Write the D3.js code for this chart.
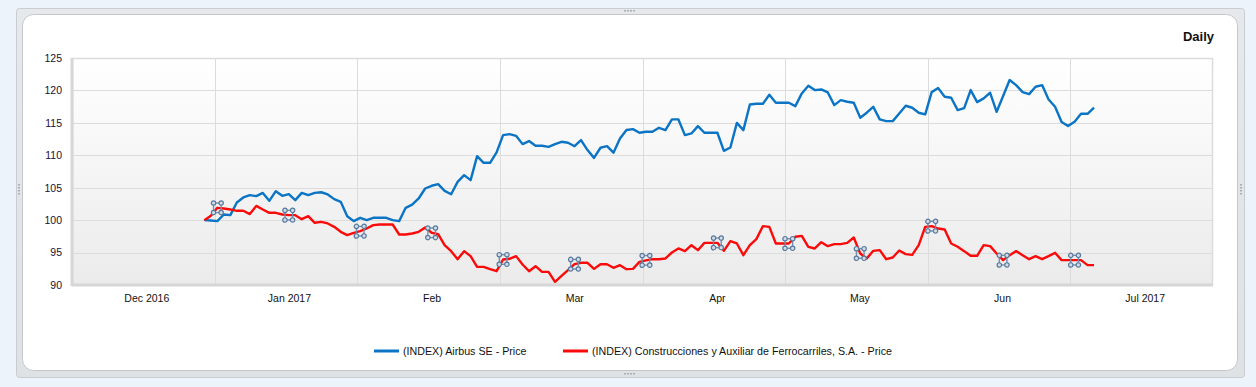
<!DOCTYPE html>
<html>
<head>
<meta charset="utf-8">
<script src="https://cdn.jsdelivr.net/npm/d3@7"></script>
<style>
  html, body { margin: 0; padding: 0; background: #edf3fa; }
  svg { display: block; font-family: Arial, "Liberation Sans", sans-serif; }
</style>
</head>
<body>
<div id="chart"></div>
<script>
// month bands along the bottom axis
var months = ["Dec 2016", "Jan 2017", "Feb", "Mar", "Apr", "May", "Jun", "Jul 2017"];
var yTicks = [90, 95, 100, 105, 110, 115, 120, 125];

// daily prices, rebased to 100
var airbus = [100.0, 99.95, 99.85, 100.87, 100.77, 102.72, 103.5, 103.86, 103.7, 104.2,
  102.98, 104.47, 103.75, 104.0, 103.08, 104.2, 103.86, 104.2, 104.3, 103.96,
  103.24, 102.83, 100.6, 99.85, 100.36, 100.0, 100.36, 100.36, 100.36, 100.0,
  99.85, 101.9, 102.4, 103.34, 104.88, 105.3, 105.55, 104.52, 104.0, 105.9,
  106.94, 106.17, 109.87, 108.84, 108.84, 110.44, 113.1, 113.26, 113.0, 111.72,
  112.19, 111.47, 111.47, 111.3, 111.72, 112.08, 111.93, 111.4, 112.34, 110.8,
  109.6, 111.16, 111.4, 110.4, 112.6, 113.9, 114.04, 113.47, 113.62,
  113.62, 114.24, 113.88, 115.53, 115.53, 113.11, 113.37, 114.5, 113.47, 113.47,
  113.47, 110.69, 111.2, 115.0, 113.88, 117.84, 117.94, 117.94, 119.33, 118.1,
  118.1, 118.1, 117.58, 119.54, 120.72, 120.05, 120.15, 119.69, 117.74, 118.5,
  118.25, 118.1, 115.78, 116.56, 117.48, 115.53, 115.27, 115.27, 116.45, 117.64,
  117.33, 116.56, 116.3, 119.74, 120.36, 119.02, 118.87, 116.97, 117.28, 120.05,
  118.2, 118.77, 119.64, 116.7, 119.13, 121.6, 120.82, 119.74, 119.43, 120.57,
  120.82, 118.61, 117.48, 115.12, 114.5, 115.17, 116.4, 116.4, 117.33];

var caf = [100.0, 100.67, 101.9, 101.8, 101.65, 101.44, 101.44, 100.93, 102.2, 101.65,
  101.13, 101.13, 100.87, 100.77, 100.77, 100.15, 100.62, 99.59, 99.74, 99.49,
  98.97, 98.2, 97.69, 98.05, 98.3, 98.71, 99.23, 99.33, 99.33, 99.33,
  97.79, 97.79, 97.94, 98.2, 98.87, 98.05, 97.84, 96.14, 95.22, 93.98,
  95.22, 94.45, 92.8, 92.8, 92.44, 92.13, 93.93, 94.04, 94.45, 93.16,
  92.13, 92.9, 92.03, 92.03, 90.49, 91.41, 92.29, 93.21, 93.42, 93.42,
  92.49, 93.21, 93.21, 92.65, 93.06, 92.44, 92.49, 93.57, 93.8,
  93.98, 93.98, 94.09, 95.01, 95.63, 95.22, 96.14, 95.37, 96.5, 96.5,
  96.5, 95.27, 96.76, 96.4, 94.6, 96.14, 97.07, 99.07, 98.97, 96.4,
  96.4, 96.4, 97.43, 97.58, 95.89, 95.63, 96.6, 95.99, 96.3, 96.3,
  96.5, 97.33, 94.86, 94.09, 95.27, 95.37, 93.98, 94.24, 95.32, 94.76,
  94.65, 96.14, 98.97, 99.07, 98.71, 98.56, 96.4, 95.89, 95.22, 94.5,
  94.5, 96.14, 95.99, 94.86, 93.83, 94.6, 95.22, 94.6, 93.98, 94.45,
  93.98, 94.45, 94.96, 93.83, 93.83, 93.83, 93.83, 93.06, 93.06];

// news/event flags sit on the CAF line at these days
var eventIdx = [2, 13, 24, 35, 46, 57, 68, 79, 90, 101, 112, 123, 134];

var seriesNames = ["(INDEX) Airbus SE - Price",
  "(INDEX) Construcciones y Auxiliar de Ferrocarriles, S.A. - Price"];
var seriesColors = ["#0b74c4", "#fb0a0a"];

var W = 1256, H = 387;
var margin = {top: 58, right: 43, bottom: 102, left: 72};

var svg = d3.select("#chart").append("svg")
  .attr("width", W)
  .attr("height", H);

var defs = svg.append("defs");
var grad = defs.append("linearGradient")
  .attr("id", "plotbg")
  .attr("x1", 0).attr("y1", 0).attr("x2", 0).attr("y2", 1);
grad.append("stop").attr("offset", "0%").attr("stop-color", "#ffffff");
grad.append("stop").attr("offset", "100%").attr("stop-color", "#ebebeb");

var frame = defs.append("linearGradient")
  .attr("id", "framebg")
  .attr("x1", 0).attr("y1", 0).attr("x2", 0).attr("y2", 1);
frame.append("stop").attr("offset", "0%").attr("stop-color", "#e6e9ec");
frame.append("stop").attr("offset", "100%").attr("stop-color", "#dfe2e5");

// outer panel
svg.append("rect")
  .attr("x", 16.5).attr("y", 8.5)
  .attr("width", 1228).attr("height", 369)
  .attr("rx", 3)
  .attr("fill", "url(#framebg)")
  .attr("stroke", "#c9cdd1");

svg.append("rect")
  .attr("x", 22.5).attr("y", 14.5)
  .attr("width", 1215).attr("height", 356)
  .attr("rx", 11)
  .attr("fill", "#ffffff")
  .attr("stroke", "#c4c8cc");

// grip dots on the panel edges
function grip(cx, cy, vertical) {
  for (var i = 0; i < 4; i++) {
    svg.append("rect")
      .attr("x", vertical ? cx - 1 : cx - 6 + i * 3)
      .attr("y", vertical ? cy - 6 + i * 3 : cy - 1)
      .attr("width", 2).attr("height", 1.5)
      .attr("fill", "#a9aeb3");
  }
}
grip(630, 11, false);
grip(630, 374, false);
grip(19, 190, true);
grip(1241, 190, true);

var plotW = W - margin.left - margin.right,
    plotH = H - margin.top - margin.bottom;

var g = svg.append("g")
  .attr("transform", "translate(" + margin.left + "," + margin.top + ")");

var y = d3.scaleLinear().domain([90, 125]).range([plotH, 0]);

var xMonth = d3.scaleBand().domain(months).range([0, plotW]).padding(0);
var bw = xMonth.bandwidth();

// trading days laid out evenly, first day late in Dec, last one early in Jul
var x = d3.scaleLinear()
  .domain([0, airbus.length - 1])
  .range([xMonth("Dec 2016") + 0.928 * bw, xMonth("Jul 2017") + 0.166 * bw]);

g.append("rect")
  .attr("width", plotW).attr("height", plotH)
  .attr("fill", "url(#plotbg)");

// grid
g.selectAll(".hgrid")
  .data(yTicks)
  .enter().append("line")
  .attr("x1", 0).attr("x2", plotW)
  .attr("y1", function(d) { return Math.round(y(d)) + 0.5; })
  .attr("y2", function(d) { return Math.round(y(d)) + 0.5; })
  .attr("stroke", "#dcdcdc");

g.selectAll(".vgrid")
  .data(months.slice(1))
  .enter().append("line")
  .attr("x1", function(d) { return Math.round(xMonth(d)) + 0.5; })
  .attr("x2", function(d) { return Math.round(xMonth(d)) + 0.5; })
  .attr("y1", 0).attr("y2", plotH)
  .attr("stroke", "#dcdcdc");

// plot border (heavier left and bottom)
g.append("rect")
  .attr("x", 0.5).attr("y", 0.5)
  .attr("width", plotW - 1).attr("height", plotH - 1)
  .attr("fill", "none")
  .attr("stroke", "#dcdcdc")
  .attr("stroke-width", 1.5);
g.append("line")
  .attr("x1", 0).attr("x2", 0)
  .attr("y1", 0).attr("y2", plotH + 1)
  .attr("stroke", "#d6d6d6").attr("stroke-width", 3);
g.append("line")
  .attr("x1", 0).attr("x2", plotW)
  .attr("y1", plotH).attr("y2", plotH)
  .attr("stroke", "#d6d6d6").attr("stroke-width", 3);

// y axis labels
var yAxis = d3.axisLeft(y).tickValues(yTicks).tickSize(0).tickPadding(10);
var ya = g.append("g").call(yAxis);
ya.select(".domain").remove();
ya.selectAll("text")
  .attr("font-size", "10.5px")
  .attr("font-family", "Arial, 'Liberation Sans', sans-serif")
  .attr("fill", "#1a1030");

// x axis labels, centred on month bands
var xAxis = d3.axisBottom(xMonth).tickSize(0).tickPadding(10);
var xa = g.append("g")
  .attr("transform", "translate(3.5," + plotH + ")")
  .call(xAxis);
xa.select(".domain").remove();
xa.selectAll("text")
  .attr("font-size", "10.5px")
  .attr("font-family", "Arial, 'Liberation Sans', sans-serif")
  .attr("fill", "#111");

// lines
var line = d3.line()
  .x(function(d, i) { return x(i); })
  .y(function(d) { return y(d); });

g.append("path")
  .datum(airbus)
  .attr("d", line)
  .attr("fill", "none")
  .attr("stroke", seriesColors[0])
  .attr("stroke-width", 2.4)
  .attr("stroke-linejoin", "round");

g.append("path")
  .datum(caf)
  .attr("d", line)
  .attr("fill", "none")
  .attr("stroke", seriesColors[1])
  .attr("stroke-width", 2.4)
  .attr("stroke-linejoin", "round");

// event flags
var flags = g.selectAll(".flag")
  .data(eventIdx)
  .enter().append("g")
  .attr("transform", function(d) { return "translate(" + x(d) + "," + y(caf[d]) + ")"; });

flags.append("rect")
  .attr("x", -3.8).attr("y", -4.8)
  .attr("width", 7.6).attr("height", 9.6)
  .attr("fill", "none")
  .attr("stroke", "#7390b0")
  .attr("stroke-width", 1.4);

var corners = [[-3.8, -4.8], [3.8, -4.8], [-3.8, 4.8], [3.8, 4.8]];
flags.selectAll("circle")
  .data(corners)
  .enter().append("circle")
  .attr("cx", function(d) { return d[0]; })
  .attr("cy", function(d) { return d[1]; })
  .attr("r", 2.2)
  .attr("fill", "#d3dde8")
  .attr("stroke", "#58799b")
  .attr("stroke-width", 1.2);

// title
svg.append("text")
  .attr("x", 1214)
  .attr("y", 41)
  .attr("text-anchor", "end")
  .attr("font-size", "13px")
  .attr("font-weight", "bold")
  .attr("fill", "#111")
  .text("Daily");

// legend
var legendX = [374, 563];
var legend = svg.selectAll(".legend")
  .data(seriesNames)
  .enter().append("g")
  .attr("transform", function(d, i) { return "translate(" + legendX[i] + ",351)"; });

legend.append("line")
  .attr("x1", 0).attr("x2", 25)
  .attr("y1", 0).attr("y2", 0)
  .attr("stroke", function(d, i) { return seriesColors[i]; })
  .attr("stroke-width", 3);

legend.append("text")
  .attr("x", 29)
  .attr("y", 0)
  .attr("dy", "0.35em")
  .attr("font-size", "10.7px")
  .attr("fill", "#111")
  .text(function(d) { return d; });
</script>
</body>
</html>
